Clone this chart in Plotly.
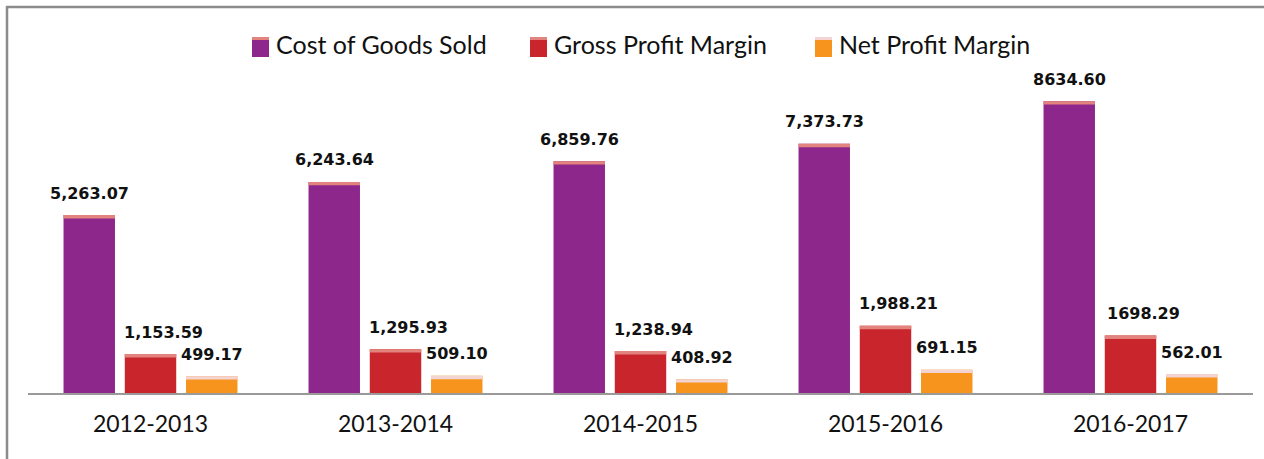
import plotly.graph_objects as go

years = ["2012-2013", "2013-2014", "2014-2015", "2015-2016", "2016-2017"]
cogs = [5263.07, 6243.64, 6859.76, 7373.73, 8634.60]
gross = [1153.59, 1295.93, 1238.94, 1988.21, 1698.29]
net = [499.17, 509.10, 408.92, 691.15, 562.01]
cogs_labels = ["5,263.07", "6,243.64", "6,859.76", "7,373.73", "8634.60"]
gross_labels = ["1,153.59", "1,295.93", "1,238.94", "1,988.21", "1698.29"]
net_labels = ["499.17", "509.10", "408.92", "691.15", "562.01"]
series_names = ["Cost of Goods Sold", "Gross Profit Margin", "Net Profit Margin"]

# styling
colors = ["#8E278C", "#C8252C", "#F7941D"]
capcolors = ["#E3837E", "#E3837E", "#F4D3D3"]
label_dx = [-61, 13, 61]
legend_px = [252, 530, 815]   # legend marker left edges (pixels)

W, H = 1264, 459
L, R, T, B = 28, 11, 80, 66
PW, PH = W - L - R, H - T - B


def px_x(px):
    return (px - L) / PW


def px_y(py):
    return (H - B - py) / PH


CAP = 100

fig = go.Figure()
annotations = []
shapes = []
values = [cogs, gross, net]
labels_all = [cogs_labels, gross_labels, net_labels]
for i, name in enumerate(series_names):
    vals = values[i]
    fig.add_trace(go.Bar(
        x=years, y=vals, name=name, offsetgroup=str(i),
        marker=dict(color=colors[i], line=dict(width=0)),
        hoverinfo="skip", showlegend=False,
    ))
    fig.add_trace(go.Bar(
        x=years, y=[CAP] * len(vals), base=[v - CAP for v in vals],
        offsetgroup=str(i), showlegend=False,
        marker=dict(color=capcolors[i], line=dict(width=0)),
        hoverinfo="skip",
    ))
    for yr, v, lab in zip(years, vals, labels_all[i]):
        annotations.append(dict(
            x=yr, y=v, text="<b>" + lab + "</b>", showarrow=False,
            xshift=label_dx[i], yshift=22, yanchor="middle", xanchor="center",
            font=dict(family="DejaVu Sans", size=16, color="#111111"),
        ))
    # custom legend entry
    mx = legend_px[i]
    shapes.append(dict(
        type="rect", xref="paper", yref="paper",
        x0=px_x(mx), x1=px_x(mx + 17), y0=px_y(57), y1=px_y(37),
        fillcolor=colors[i], line=dict(width=0), layer="above",
    ))
    shapes.append(dict(
        type="rect", xref="paper", yref="paper",
        x0=px_x(mx), x1=px_x(mx + 17), y0=px_y(40), y1=px_y(37),
        fillcolor=capcolors[i], line=dict(width=0), layer="above",
    ))
    annotations.append(dict(
        xref="paper", yref="paper", x=px_x(mx + 22), y=px_y(44),
        xanchor="left", yanchor="middle", showarrow=False, text=name,
        font=dict(family="Lato", size=25, color="#111111"),
    ))

# outer frame
shapes.append(dict(
    type="rect", xref="paper", yref="paper",
    x0=px_x(7), x1=px_x(1300), y0=px_y(500), y1=px_y(7),
    line=dict(color="#8c8c8c", width=2.5), fillcolor="rgba(0,0,0,0)",
    layer="below",
))

fig.update_layout(
    width=W, height=H,
    margin=dict(l=L, r=R, t=T, b=B, autoexpand=False),
    paper_bgcolor="white", plot_bgcolor="white",
    barmode="group", bargap=0.25, bargroupgap=0.16,
    showlegend=False,
    annotations=annotations,
    shapes=shapes,
    xaxis=dict(
        showgrid=False, showline=True, linecolor="#9a9a9a", linewidth=2,
        ticks="", ticklabelstandoff=9,
        tickfont=dict(family="Lato", size=23, color="#111111"),
        zeroline=False,
    ),
    yaxis=dict(
        range=[0, 9260], showgrid=False, showticklabels=False,
        zeroline=False, showline=False,
    ),
)

fig.write_html("out.html", config={"displayModeBar": False},
               post_script="document.body.style.margin='0';")
